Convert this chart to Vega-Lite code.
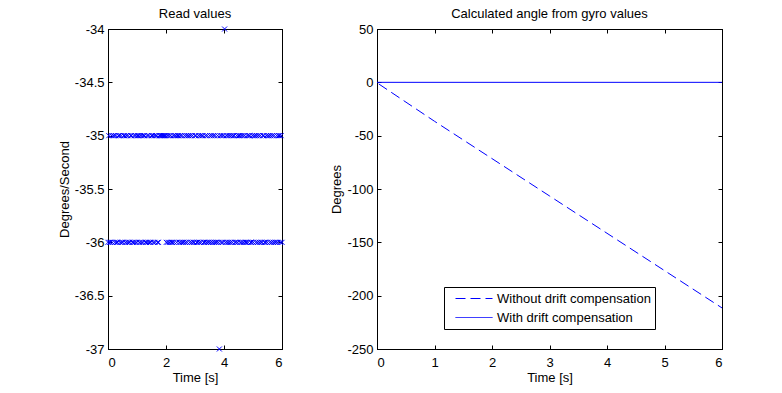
{
  "$schema": "https://vega.github.io/schema/vega-lite/v6.json",
  "background": "white",
  "padding": {"left": 57, "top": 7, "right": 5, "bottom": 5},
  "config": {
    "font": "Liberation Sans",
    "view": {"stroke": "black", "strokeWidth": 1},
    "axis": {
      "grid": false,
      "domainColor": "black",
      "tickColor": "black",
      "labelColor": "black",
      "titleColor": "black",
      "labelFont": "Liberation Sans",
      "titleFont": "Liberation Sans",
      "labelFontSize": 13,
      "titleFontSize": 13,
      "titleFontWeight": "normal",
      "tickSize": -4
    },
    "axisX": {"labelPadding": 11, "titlePadding": 2},
    "axisY": {"labelPadding": 8, "titlePadding": 3},
    "title": {"font": "Liberation Sans", "fontSize": 13, "fontWeight": "normal", "color": "black", "offset": 2},
    "concat": {"spacing": 43}
  },
  "datasets": {
    "readings": [
      {"t": 0.00, "v": -36},
      {"t": 0.03, "v": -35}, {"t": 0.06, "v": -36}, {"t": 0.09, "v": -36}, {"t": 0.12, "v": -35}, {"t": 0.15, "v": -36},
      {"t": 0.18, "v": -35}, {"t": 0.21, "v": -35}, {"t": 0.24, "v": -36}, {"t": 0.27, "v": -35}, {"t": 0.30, "v": -36},
      {"t": 0.33, "v": -36}, {"t": 0.36, "v": -35}, {"t": 0.39, "v": -35}, {"t": 0.42, "v": -36}, {"t": 0.45, "v": -35},
      {"t": 0.48, "v": -36}, {"t": 0.51, "v": -36}, {"t": 0.54, "v": -35}, {"t": 0.57, "v": -35}, {"t": 0.60, "v": -36},
      {"t": 0.63, "v": -35}, {"t": 0.66, "v": -36}, {"t": 0.69, "v": -35}, {"t": 0.72, "v": -36}, {"t": 0.75, "v": -36},
      {"t": 0.78, "v": -35}, {"t": 0.81, "v": -35}, {"t": 0.84, "v": -36}, {"t": 0.87, "v": -36}, {"t": 0.90, "v": -35},
      {"t": 0.93, "v": -36}, {"t": 0.96, "v": -35}, {"t": 0.99, "v": -36}, {"t": 1.02, "v": -35}, {"t": 1.05, "v": -35},
      {"t": 1.08, "v": -36}, {"t": 1.11, "v": -35}, {"t": 1.14, "v": -36}, {"t": 1.17, "v": -35}, {"t": 1.20, "v": -36},
      {"t": 1.23, "v": -35}, {"t": 1.26, "v": -35}, {"t": 1.29, "v": -36}, {"t": 1.32, "v": -36}, {"t": 1.35, "v": -35},
      {"t": 1.38, "v": -36}, {"t": 1.41, "v": -35}, {"t": 1.44, "v": -36}, {"t": 1.47, "v": -36}, {"t": 1.50, "v": -35},
      {"t": 1.53, "v": -35}, {"t": 1.56, "v": -36}, {"t": 1.59, "v": -35}, {"t": 1.62, "v": -36}, {"t": 1.65, "v": -35},
      {"t": 1.68, "v": -35}, {"t": 1.71, "v": -36}, {"t": 1.74, "v": -36}, {"t": 1.77, "v": -35}, {"t": 1.80, "v": -35},
      {"t": 1.83, "v": -35}, {"t": 1.86, "v": -35}, {"t": 1.89, "v": -35}, {"t": 1.92, "v": -35}, {"t": 1.95, "v": -35},
      {"t": 1.98, "v": -35}, {"t": 2.01, "v": -36}, {"t": 2.04, "v": -35}, {"t": 2.07, "v": -36}, {"t": 2.10, "v": -35},
      {"t": 2.13, "v": -36}, {"t": 2.16, "v": -35}, {"t": 2.19, "v": -36}, {"t": 2.22, "v": -36}, {"t": 2.25, "v": -35},
      {"t": 2.28, "v": -36}, {"t": 2.31, "v": -35}, {"t": 2.34, "v": -35}, {"t": 2.37, "v": -36}, {"t": 2.40, "v": -35},
      {"t": 2.43, "v": -35}, {"t": 2.46, "v": -36}, {"t": 2.49, "v": -35}, {"t": 2.52, "v": -36}, {"t": 2.55, "v": -35},
      {"t": 2.58, "v": -36}, {"t": 2.61, "v": -36}, {"t": 2.64, "v": -35}, {"t": 2.67, "v": -36}, {"t": 2.70, "v": -35},
      {"t": 2.73, "v": -36}, {"t": 2.76, "v": -35}, {"t": 2.79, "v": -35}, {"t": 2.82, "v": -36}, {"t": 2.85, "v": -35},
      {"t": 2.88, "v": -36}, {"t": 2.91, "v": -35}, {"t": 2.94, "v": -36}, {"t": 2.97, "v": -36}, {"t": 3.00, "v": -35},
      {"t": 3.03, "v": -35}, {"t": 3.06, "v": -36}, {"t": 3.09, "v": -36}, {"t": 3.12, "v": -35}, {"t": 3.15, "v": -36},
      {"t": 3.18, "v": -35}, {"t": 3.21, "v": -36}, {"t": 3.24, "v": -35}, {"t": 3.27, "v": -35}, {"t": 3.30, "v": -36},
      {"t": 3.33, "v": -36}, {"t": 3.36, "v": -35}, {"t": 3.39, "v": -36}, {"t": 3.42, "v": -35}, {"t": 3.45, "v": -36},
      {"t": 3.48, "v": -36}, {"t": 3.51, "v": -35}, {"t": 3.54, "v": -36}, {"t": 3.57, "v": -35}, {"t": 3.60, "v": -36},
      {"t": 3.63, "v": -35}, {"t": 3.66, "v": -36}, {"t": 3.69, "v": -35}, {"t": 3.72, "v": -36}, {"t": 3.75, "v": -36},
      {"t": 3.78, "v": -35}, {"t": 3.81, "v": -36}, {"t": 3.84, "v": -37}, {"t": 3.87, "v": -35}, {"t": 3.90, "v": -36},
      {"t": 3.93, "v": -35}, {"t": 3.96, "v": -36}, {"t": 3.99, "v": -35}, {"t": 4.02, "v": -34}, {"t": 4.05, "v": -36},
      {"t": 4.08, "v": -35}, {"t": 4.11, "v": -36}, {"t": 4.14, "v": -35}, {"t": 4.17, "v": -36}, {"t": 4.20, "v": -35},
      {"t": 4.23, "v": -36}, {"t": 4.26, "v": -35}, {"t": 4.29, "v": -36}, {"t": 4.32, "v": -35}, {"t": 4.35, "v": -35},
      {"t": 4.38, "v": -36}, {"t": 4.41, "v": -36}, {"t": 4.44, "v": -35}, {"t": 4.47, "v": -36}, {"t": 4.50, "v": -35},
      {"t": 4.53, "v": -35}, {"t": 4.56, "v": -36}, {"t": 4.59, "v": -35}, {"t": 4.62, "v": -36}, {"t": 4.65, "v": -35},
      {"t": 4.68, "v": -36}, {"t": 4.71, "v": -35}, {"t": 4.74, "v": -36}, {"t": 4.77, "v": -36}, {"t": 4.80, "v": -35},
      {"t": 4.83, "v": -36}, {"t": 4.86, "v": -35}, {"t": 4.89, "v": -35}, {"t": 4.92, "v": -36}, {"t": 4.95, "v": -36},
      {"t": 4.98, "v": -35}, {"t": 5.01, "v": -36}, {"t": 5.04, "v": -35}, {"t": 5.07, "v": -35}, {"t": 5.10, "v": -36},
      {"t": 5.13, "v": -35}, {"t": 5.16, "v": -36}, {"t": 5.19, "v": -35}, {"t": 5.22, "v": -36}, {"t": 5.25, "v": -35},
      {"t": 5.28, "v": -36}, {"t": 5.31, "v": -36}, {"t": 5.34, "v": -35}, {"t": 5.37, "v": -35}, {"t": 5.40, "v": -36},
      {"t": 5.43, "v": -36}, {"t": 5.46, "v": -35}, {"t": 5.49, "v": -36}, {"t": 5.52, "v": -35}, {"t": 5.55, "v": -35},
      {"t": 5.58, "v": -36}, {"t": 5.61, "v": -35}, {"t": 5.64, "v": -36}, {"t": 5.67, "v": -35}, {"t": 5.70, "v": -36},
      {"t": 5.73, "v": -35}, {"t": 5.76, "v": -36}, {"t": 5.79, "v": -36}, {"t": 5.82, "v": -35}, {"t": 5.85, "v": -36},
      {"t": 5.88, "v": -35}, {"t": 5.91, "v": -35}, {"t": 5.94, "v": -36}, {"t": 5.97, "v": -35}, {"t": 6.00, "v": -36}
    ],
    "angles": [
      {"t": 0.03, "angle": -1.5, "series": "Without drift compensation"},
      {"t": 1, "angle": -36.5, "series": "Without drift compensation"},
      {"t": 2, "angle": -71.5, "series": "Without drift compensation"},
      {"t": 3, "angle": -106.5, "series": "Without drift compensation"},
      {"t": 4, "angle": -141.5, "series": "Without drift compensation"},
      {"t": 5, "angle": -176.5, "series": "Without drift compensation"},
      {"t": 6, "angle": -211.5, "series": "Without drift compensation"},
      {"t": 0, "angle": 0, "series": "With drift compensation"},
      {"t": 6, "angle": 0, "series": "With drift compensation"}
    ]
  },
  "resolve": {"legend": {"strokeDash": "independent"}},
  "hconcat": [
    {
      "width": 174,
      "height": 320,
      "title": {"text": "Read values"},
      "data": {"name": "readings"},
      "layer": [
        {
          "mark": {"type": "point", "shape": "M-1,-1L1,1M1,-1L-1,1", "filled": false, "size": 25, "strokeWidth": 1, "color": "#0000ff", "opacity": 1},
          "encoding": {
            "x": {"field": "t", "type": "quantitative", "scale": {"domain": [0, 6], "nice": false, "zero": false},
                  "axis": {"orient": "bottom", "title": "Time [s]", "values": [0, 2, 4, 6], "labelExpr": "'' + datum.value"}},
            "y": {"field": "v", "type": "quantitative", "scale": {"domain": [-37, -34], "nice": false, "zero": false},
                  "axis": {"orient": "left", "title": "Degrees/Second", "values": [-37, -36.5, -36, -35.5, -35, -34.5, -34], "labelExpr": "'' + datum.value"}}
          }
        },
        {
          "mark": {"type": "point", "opacity": 0},
          "encoding": {
            "x": {"field": "t", "type": "quantitative", "scale": {"domain": [0, 6], "nice": false, "zero": false},
                  "axis": {"orient": "top", "labels": false, "title": null, "values": [0, 2, 4, 6]}},
            "y": {"field": "v", "type": "quantitative", "scale": {"domain": [-37, -34], "nice": false, "zero": false},
                  "axis": {"orient": "right", "labels": false, "title": null, "values": [-37, -36.5, -36, -35.5, -35, -34.5, -34]}}
          }
        }
      ],
      "resolve": {"axis": {"x": "independent", "y": "independent"}}
    },
    {
      "width": 345,
      "height": 320,
      "title": {"text": "Calculated angle from gyro values"},
      "data": {"name": "angles"},
      "layer": [
        {
          "mark": {"type": "line", "color": "#0000ff", "strokeWidth": 1},
          "encoding": {
            "x": {"field": "t", "type": "quantitative", "scale": {"domain": [0, 6], "nice": false, "zero": false},
                  "axis": {"orient": "bottom", "title": "Time [s]", "values": [0, 1, 2, 3, 4, 5, 6], "labelExpr": "'' + datum.value"}},
            "y": {"field": "angle", "type": "quantitative", "scale": {"domain": [-250, 50], "nice": false, "zero": false},
                  "axis": {"orient": "left", "title": "Degrees", "values": [-250, -200, -150, -100, -50, 0, 50], "labelExpr": "'' + datum.value"}},
            "strokeDash": {
              "field": "series", "type": "nominal",
              "scale": {"domain": ["Without drift compensation", "With drift compensation"], "range": [[10, 5], [1, 0]]},
              "legend": {
                "orient": "none", "legendX": 67, "legendY": 258, "title": null,
                "strokeColor": "black", "fillColor": "white", "padding": 4,
                "symbolType": "stroke", "symbolSize": 1369, "symbolStrokeWidth": 1, "symbolStrokeColor": "#0000ff",
                "symbolOffset": 7, "clipHeight": 15,
                "labelFont": "Liberation Sans", "labelFontSize": 13, "labelColor": "black", "labelOffset": 4,
                "rowPadding": 4, "cornerRadius": 0,
                "symbolDashOffset": 0,
                "encode": {"symbols": {"update": {"stroke": {"value": "#0000ff"}, "strokeWidth": {"value": 1}}}}
              }
            }
          }
        },
        {
          "mark": {"type": "point", "opacity": 0},
          "encoding": {
            "x": {"field": "t", "type": "quantitative", "scale": {"domain": [0, 6], "nice": false, "zero": false},
                  "axis": {"orient": "top", "labels": false, "title": null, "values": [0, 1, 2, 3, 4, 5, 6]}},
            "y": {"field": "angle", "type": "quantitative", "scale": {"domain": [-250, 50], "nice": false, "zero": false},
                  "axis": {"orient": "right", "labels": false, "title": null, "values": [-250, -200, -150, -100, -50, 0, 50]}}
          }
        }
      ],
      "resolve": {"axis": {"x": "independent", "y": "independent"}}
    }
  ]
}
